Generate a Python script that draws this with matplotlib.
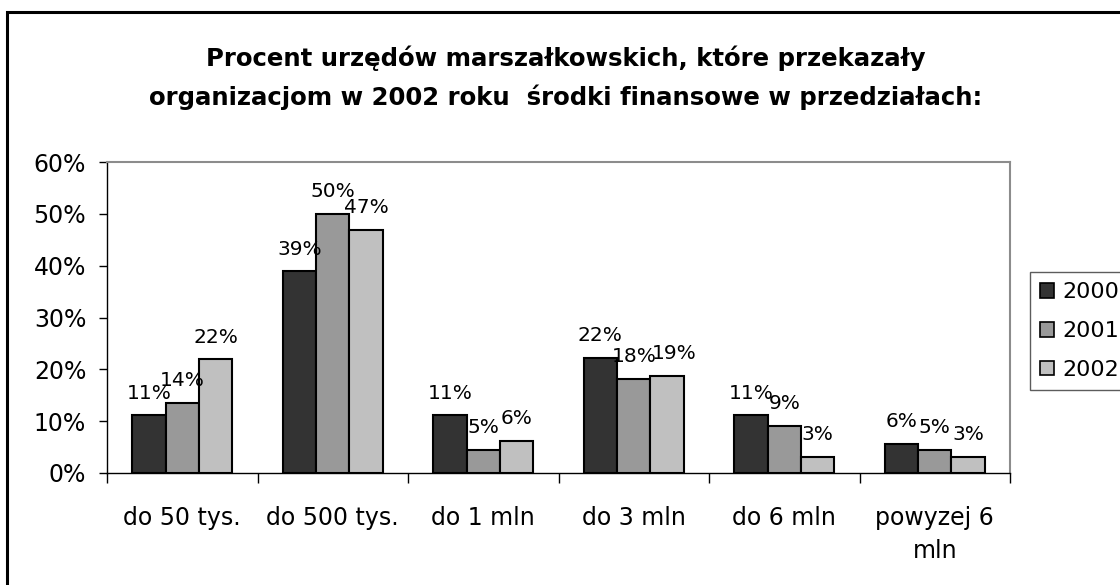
import matplotlib
matplotlib.use("Agg")
import matplotlib.pyplot as plt
from matplotlib.patches import Patch, Rectangle
from matplotlib.ticker import FuncFormatter, FixedLocator
import numpy as np

plt.rcParams['font.family'] = ['DejaVu Sans']

categories = ["do 50 tys.", "do 500 tys.", "do 1 mln", "do 3 mln", "do 6 mln", "powyzej 6\nmln"]
series_names = ["2000", "2001", "2002"]
values_2000 = [11.1, 38.9, 11.1, 22.2, 11.1, 5.6]
values_2001 = [13.6, 50.0, 4.5, 18.2, 9.1, 4.5]
values_2002 = [21.9, 46.9, 6.25, 18.75, 3.1, 3.1]
labels_2000 = ["11%", "39%", "11%", "22%", "11%", "6%"]
labels_2001 = ["14%", "50%", "5%", "18%", "9%", "5%"]
labels_2002 = ["22%", "47%", "6%", "19%", "3%", "3%"]
colors = ["#333333", "#999999", "#c0c0c0"]

title_line1 = "Procent urzędów marszałkowskich, które przekazały"
title_line2 = "organizacjom w 2002 roku  środki finansowe w przedziałach:"

W, H = 1120, 585
fig = plt.figure(figsize=(W / 100, H / 100), dpi=100)

# outer chart border (cropped at right/bottom)
fig.patches.append(Rectangle((7 / W, -0.05), 1.2, 1 - 12 / H + 0.05, transform=fig.transFigure,
                             fill=False, edgecolor="black", linewidth=2.2, zorder=0))

ax = fig.add_axes([107 / W, 1 - 473 / H, (1010 - 107) / W, (473 - 162) / H])

series = [values_2000, values_2001, values_2002]
labels = [labels_2000, labels_2001, labels_2002]
# small horizontal nudges (points) for crowded labels: (series index, category index)
nudges = {(2, 3): 5}
n = len(categories)
x = np.arange(n)
bw = 1 / 4.5
for i, (vals, labs) in enumerate(zip(series, labels)):
    pos = x + (i - 1) * bw
    bars = ax.bar(pos, vals, width=bw, color=colors[i], edgecolor="black", linewidth=1.5,
                  label=series_names[i], zorder=3)
    for j, (b, lab) in enumerate(zip(bars, labs)):
        ax.annotate(lab, (b.get_x() + b.get_width() / 2, b.get_height()),
                    xytext=(nudges.get((i, j), 0), 9), textcoords="offset points",
                    ha="center", va="bottom", fontsize=14.5, zorder=4)

ax.set_xlim(-0.5, n - 0.5)
ax.set_ylim(0, 60)
ax.set_yticks(np.arange(0, 61, 10))
ax.yaxis.set_major_formatter(FuncFormatter(lambda v, p: f"{int(v)}%"))
ax.tick_params(axis="y", direction="out", length=6, width=1, pad=9, labelsize=17)

ax.xaxis.set_major_locator(FixedLocator(np.arange(-0.5, n, 1.0)))
ax.xaxis.set_minor_locator(FixedLocator(x))
ax.set_xticklabels([], minor=False)
ax.set_xticklabels(categories, minor=True, linespacing=1.45)
ax.tick_params(axis="x", which="major", direction="out", length=7, width=1)
ax.tick_params(axis="x", which="minor", length=0, pad=24, labelsize=17)

for s in ["top", "right"]:
    ax.spines[s].set_color("#8c8c8c")
    ax.spines[s].set_linewidth(1.5)
for s in ["left", "bottom"]:
    ax.spines[s].set_color("black")
    ax.spines[s].set_linewidth(1.0)

fig.text(0.505, 1 - 58 / H, title_line1, ha="center", va="center", fontsize=17.6, fontweight="bold")
fig.text(0.505, 1 - 97 / H, title_line2, ha="center", va="center", fontsize=17.6, fontweight="bold")

handles = [Patch(facecolor=c, edgecolor="black", linewidth=1.2) for c in colors]
leg = fig.legend(handles, series_names, loc="upper left", bbox_to_anchor=(1030 / W, 1 - 272 / H),
                 bbox_transform=fig.transFigure, fontsize=16, frameon=True, fancybox=False,
                 handlelength=0.65, handleheight=0.65, handletextpad=0.35, labelspacing=0.85,
                 borderpad=0.45, borderaxespad=0)
leg.get_frame().set_edgecolor("#333333")
leg.get_frame().set_linewidth(1.0)

fig.savefig("out.png", dpi=100)
